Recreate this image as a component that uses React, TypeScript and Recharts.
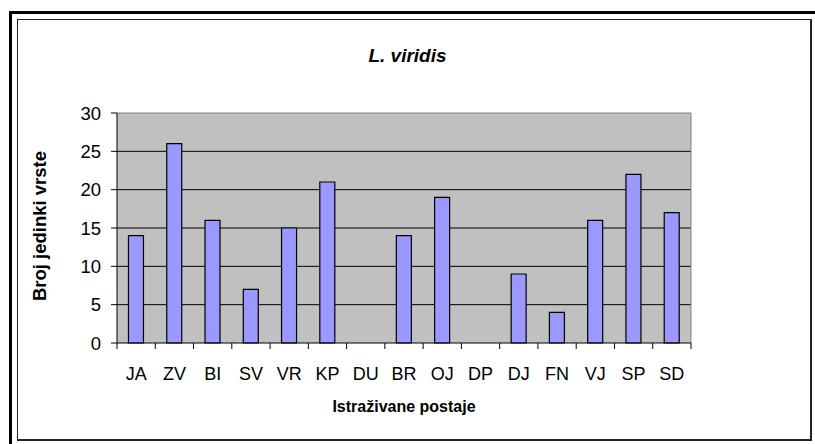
import React from 'react';
import { BarChart, Bar, XAxis, YAxis, CartesianGrid, ReferenceLine } from 'recharts';

// stations (x categories) and counts
const stations = ['JA', 'ZV', 'BI', 'SV', 'VR', 'KP', 'DU', 'BR', 'OJ', 'DP', 'DJ', 'FN', 'VJ', 'SP', 'SD'];
const counts = [14, 26, 16, 7, 15, 21, 0, 14, 19, 0, 9, 4, 16, 22, 17];
const yTicks = [0, 5, 10, 15, 20, 25, 30];
const gridLines = [5, 10, 15, 20, 25];
const edgeTicks = stations.map((_, i) => i).concat(stations.length);

const data = stations.map((s, i) => ({ station: s, count: counts[i], edge: i }));

const FONT = '"Liberation Sans", Arial, sans-serif';

const NoLabel = () => <g />;

export default function App() {
  return (
    <div style={{ position: 'absolute', left: 0, top: 0, width: 815, height: 444, overflow: 'hidden', background: '#fff', fontFamily: FONT }}>
      {/* outer frame */}
      <div style={{ position: 'absolute', left: 9, top: 11, width: 820, height: 450, borderLeft: '3px solid #000', borderTop: '3px solid #000' }} />
      <div style={{ position: 'absolute', left: 17, top: 19, width: 795, height: 422, border: '1px solid #222', borderRightWidth: 2, borderBottomWidth: 2, boxSizing: 'border-box' }} />

      <div style={{ position: 'absolute', left: 0, width: 815, top: 45, textAlign: 'center', fontSize: 19, fontWeight: 'bold', fontStyle: 'italic', color: '#000' }}>
        L. viridis
      </div>
      <div style={{ position: 'absolute', left: 0, width: 808, top: 398, textAlign: 'center', fontSize: 16, fontWeight: 'bold', color: '#000' }}>
        Istraživane postaje
      </div>
      <div style={{ position: 'absolute', left: 40, top: 226, width: 0, height: 0 }}>
        <div style={{ position: 'absolute', left: 0, top: 0, transform: 'translate(-50%, -50%) rotate(-90deg)', whiteSpace: 'nowrap', fontSize: 18.5, fontWeight: 'bold', color: '#000' }}>
          Broj jedinki vrste
        </div>
      </div>

      <div style={{ position: 'absolute', left: 0, top: 0 }}>
        <BarChart width={815} height={444} data={data} margin={{ top: 113, right: 124, bottom: 51, left: 57 }} barCategoryGap="30%">
          <CartesianGrid fill="#C0C0C0" stroke="#000" vertical={false} horizontalValues={gridLines} />
          <XAxis
            xAxisId="a_edges"
            type="number"
            dataKey="edge"
            domain={[0, stations.length]}
            ticks={edgeTicks}
            tick={NoLabel}
            tickSize={6}
            tickLine={{ stroke: '#000' }}
            axisLine={{ stroke: '#000' }}
            height={10}
          />
          <XAxis
            dataKey="station"
            xAxisId="b_cat"
            tickLine={false}
            axisLine={false}
            tick={{ fill: '#000', fontSize: 18, fontFamily: FONT }}
            tickSize={0}
            tickMargin={14}
            interval={0}
            height={40}
          />
          <YAxis
            domain={[0, 30]}
            ticks={yTicks}
            tickSize={6}
            tickMargin={10}
            interval={0}
            axisLine={{ stroke: '#000' }}
            tickLine={{ stroke: '#000' }}
            tick={{ fill: '#000', fontSize: 18.5, fontFamily: FONT }}
            width={60}
          />
          <ReferenceLine y={30} xAxisId="a_edges" stroke="#808080" />
          <ReferenceLine x={stations.length} xAxisId="a_edges" stroke="#808080" />
          <Bar dataKey="count" xAxisId="b_cat" fill="#9999FF" stroke="#000" strokeWidth={1.2} isAnimationActive={false} />
        </BarChart>
      </div>
    </div>
  );
}
